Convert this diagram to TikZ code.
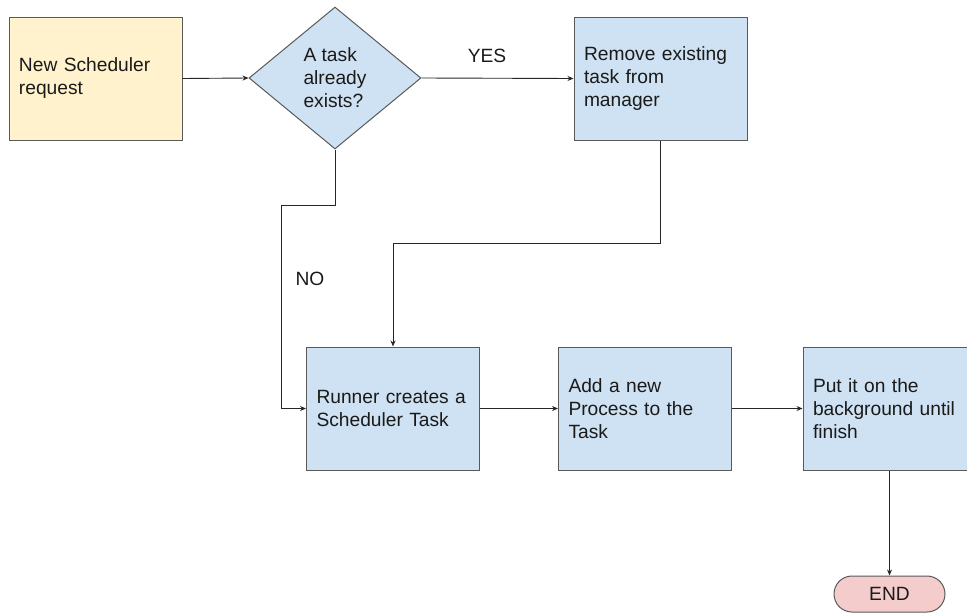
\documentclass[tikz,border=0pt]{standalone}
\usepackage{fontspec}
\setmainfont{Liberation Sans}
\usetikzlibrary{shapes.geometric,arrows.meta}
\definecolor{startfill}{HTML}{FFF2CC}
\definecolor{stepfill}{HTML}{CFE2F3}
\definecolor{endfill}{HTML}{F4CCCC}
\definecolor{edgegray}{HTML}{595959}
\definecolor{inkgray}{HTML}{1A1A1A}
\begin{document}
\begin{tikzpicture}[x=1pt,y=-1pt,
  every node/.style={font=\fontsize{19.2}{23}\selectfont, text=inkgray},
  stepbox/.style={draw=edgegray, line width=1pt, fill=stepfill, rectangle,
    minimum width=173pt, minimum height=123pt, inner xsep=10pt, inner ysep=0pt,
    text width=153pt, align=left},
  decision/.style={draw=edgegray, line width=1pt, fill=stepfill, diamond,
    minimum width=172pt, minimum height=142pt, inner sep=0pt, align=left},
  terminal/.style={draw=edgegray, line width=1pt, fill=endfill, rectangle,
    rounded corners=18pt, minimum width=111pt, minimum height=36pt, inner sep=0pt},
  flow/.style={draw=black!85, line width=0.9pt, -{Stealth[length=6pt,width=5pt]}},
  tag/.style={inner sep=0pt}
]
\useasboundingbox (0,0) rectangle (967,613);

% boxes
\node[stepbox, fill=startfill] (req) at (95.5,78.5) {New Scheduler\\request};
\node[decision] (exists) at (335,78) {A task\\already\\exists?};
\node[stepbox] (remove) at (660.5,78.5) {Remove existing\\task from\\manager};
\node[stepbox] (runner) at (393,408.5) {Runner creates a\\Scheduler Task};
\node[stepbox] (addproc) at (645,408.5) {Add a new\\Process to the\\Task};
\node[stepbox] (bg) at (889.5,408.5) {Put it on the\\background until\\finish};
\node[terminal] (finish) at (889.5,594) {END};

% branch bends
\coordinate (noA) at (335,205);
\coordinate (noB) at (281,205);
\coordinate (noC) at (281,408.5);
\coordinate (yesA) at (660.5,243);
\coordinate (yesB) at (393,243);

% connectors
\draw[flow] (req.east) -- (exists.west);
\draw[flow] (exists.east) -- (remove.west);
\draw[flow] (exists.south) -- (noA) -- (noB) -- (noC) -- (runner.west);
\draw[flow] (remove.south) -- (yesA) -- (yesB) -- (runner.north);
\draw[flow] (runner.east) -- (addproc.west);
\draw[flow] (addproc.east) -- (bg.west);
\draw[flow] (bg.south) -- (finish.north);

% branch labels
\node[tag] (yes) at (487,56) {YES};
\node[tag] (no) at (310,279) {NO};
\end{tikzpicture}
\end{document}
